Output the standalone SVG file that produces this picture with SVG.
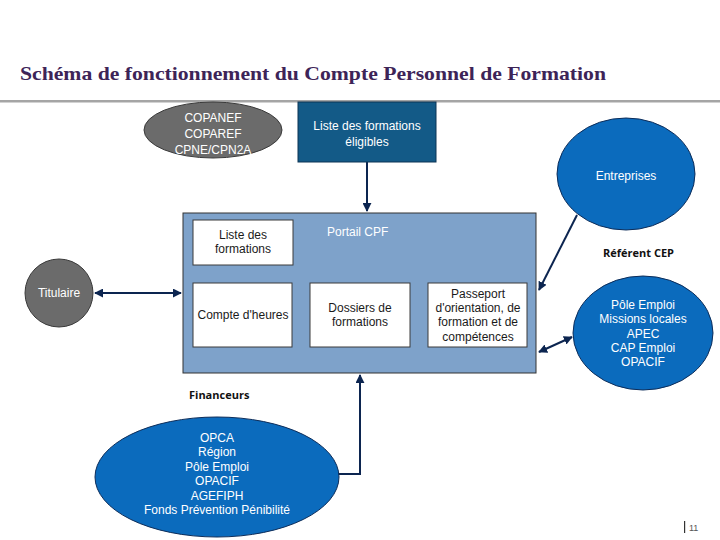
<svg xmlns="http://www.w3.org/2000/svg" width="720" height="540" viewBox="0 0 720 540">
<defs>
<style>
.t{font-family:"Liberation Sans",Arial,sans-serif;font-size:12px;text-anchor:middle}
.w{fill:#ffffff}
.k{fill:#1a1a1a}
.b{font-family:"Open Sans","Liberation Sans",sans-serif;font-size:11px;font-weight:bold;fill:#111}
.gray{fill:#6b6b6b;stroke:#3a3a3a;stroke-width:1}
.blue{fill:#0b6bbd;stroke:#0d2d5a;stroke-width:1}
.box{fill:#ffffff;stroke:#3a3a3a;stroke-width:1}
.c{stroke:#0c2550;stroke-width:2;fill:none}
</style>
<marker id="ah" viewBox="0 0 10 10" refX="9" refY="5" markerWidth="4.5" markerHeight="4.5" orient="auto-start-reverse">
<path d="M0,0 L10,5 L0,10 z" fill="#0c2550"/>
</marker>
</defs>
<rect width="720" height="540" fill="#ffffff"/>
<text x="20" y="80" font-family="'Liberation Serif','Times New Roman',serif" font-size="19" font-weight="bold" fill="#3d2457" textLength="586" lengthAdjust="spacingAndGlyphs">Schéma de fonctionnement du Compte Personnel de Formation</text>
<rect x="0" y="100" width="720" height="2.5" fill="#a5a5a5"/>

<g id="connectors">
<line class="c" x1="367" y1="162" x2="367" y2="211" marker-end="url(#ah)"/>
<line class="c" x1="95" y1="293" x2="181" y2="293" marker-start="url(#ah)" marker-end="url(#ah)"/>
<line class="c" x1="577" y1="215" x2="539" y2="290" marker-end="url(#ah)"/>
<line class="c" x1="539" y1="352" x2="572" y2="337" marker-start="url(#ah)" marker-end="url(#ah)"/>
<polyline class="c" points="337,474 360,474 360,375" marker-end="url(#ah)"/>
</g>

<g id="copanef">
<ellipse class="gray" cx="213" cy="130" rx="69" ry="28"/>
<text class="t w" x="213" y="122">COPANEF</text>
<text class="t w" x="213" y="138">COPAREF</text>
<text class="t w" x="213" y="154">CPNE/CPN2A</text>
</g>

<g id="liste-eligibles">
<rect x="298" y="102" width="138" height="60" fill="#135a87" stroke="#0d3554"/>
<text class="t w" x="367" y="130">Liste des formations</text>
<text class="t w" x="367" y="146">éligibles</text>
</g>

<g id="portail">
<rect x="183" y="213" width="353" height="160" fill="#7ea2ca" stroke="#333"/>
<text x="327" y="236" font-family="'Liberation Sans',Arial,sans-serif" font-size="12" fill="#ffffff">Portail CPF</text>
</g>

<g id="liste-formations">
<rect class="box" x="193" y="220" width="100" height="45"/>
<text class="t k" x="243" y="239">Liste des</text>
<text class="t k" x="243" y="253">formations</text>
</g>

<g id="compte-heures">
<rect class="box" x="193" y="283" width="99" height="64"/>
<text class="t k" x="243" y="319">Compte d'heures</text>
</g>

<g id="dossiers">
<rect class="box" x="310" y="283" width="100" height="64"/>
<text class="t k" x="360" y="312">Dossiers de</text>
<text class="t k" x="360" y="326">formations</text>
</g>

<g id="passeport">
<rect class="box" x="428" y="283" width="99" height="64"/>
<text class="t k" x="478" y="298">Passeport</text>
<text class="t k" x="478" y="312">d'orientation, de</text>
<text class="t k" x="478" y="326">formation et de</text>
<text class="t k" x="478" y="341">compétences</text>
</g>

<g id="titulaire">
<circle class="gray" cx="59" cy="293" r="34"/>
<text class="t w" x="59" y="297">Titulaire</text>
</g>

<g id="entreprises">
<ellipse class="blue" cx="626" cy="174" rx="69" ry="56"/>
<text class="t w" x="626" y="180">Entreprises</text>
</g>

<g id="referent-cep">
<text class="b" x="603" y="257">Référent CEP</text>
<ellipse class="blue" cx="643" cy="333" rx="70" ry="57"/>
<text class="t w" x="643" y="309">Pôle Emploi</text>
<text class="t w" x="643" y="323">Missions locales</text>
<text class="t w" x="643" y="338">APEC</text>
<text class="t w" x="643" y="352">CAP Emploi</text>
<text class="t w" x="643" y="366">OPACIF</text>
</g>

<g id="financeurs">
<text class="b" x="189" y="399">Financeurs</text>
<ellipse class="blue" cx="217" cy="477" rx="122" ry="60"/>
<text class="t w" x="217" y="442">OPCA</text>
<text class="t w" x="217" y="456">Région</text>
<text class="t w" x="217" y="471">Pôle Emploi</text>
<text class="t w" x="217" y="485">OPACIF</text>
<text class="t w" x="217" y="500">AGEFIPH</text>
<text class="t w" x="217" y="514">Fonds Prévention Pénibilité</text>
</g>

<g id="page">
<rect x="684" y="521" width="1.2" height="12" fill="#333"/>
<text x="689" y="531" font-family="'Liberation Sans',Arial,sans-serif" font-size="9" fill="#555">11</text>
</g>
</svg>
